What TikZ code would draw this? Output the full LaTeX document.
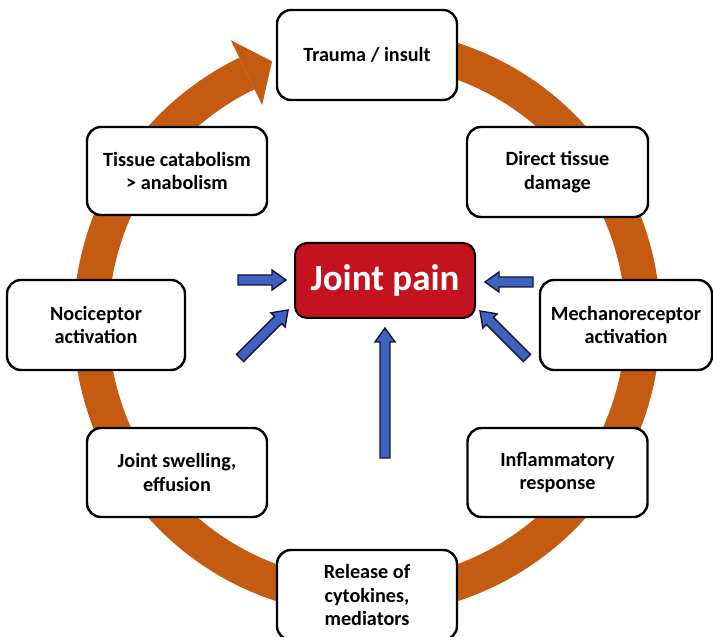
\documentclass[tikz,border=0pt]{standalone}
\usepackage{fontspec}
\setmainfont{Carlito}
\usetikzlibrary{calc,arrows.meta}
\definecolor{ringorange}{RGB}{197,90,17}
\definecolor{painred}{RGB}{196,18,30}
\definecolor{arrblue}{RGB}{62,98,190}
\definecolor{arrline}{RGB}{20,22,60}
\tikzset{
  cyclebox/.style={draw=black, line width=2.4pt, fill=white, rounded corners=14pt,
    minimum width=180pt, minimum height=90pt, inner sep=0pt, align=center,
    font=\fontsize{20.2}{23.5}\selectfont\bfseries},
  painbox/.style={draw=black, line width=2pt, fill=painred, rounded corners=12pt,
    minimum width=180pt, minimum height=75pt, inner sep=0pt, text=white,
    font=\fontsize{37}{42}\selectfont\bfseries},
  ringline/.style={draw=ringorange, line width=35pt, line cap=butt},
  barrow/.style={draw=arrline, line width=1.4pt, fill=arrblue, line join=miter}
}
\newcommand\blockarr[2]{%
  \draw[barrow] let \p1=($(#2)-(#1)$), \n1={atan2(\y1,\x1)}, \n2={veclen(\x1,\y1)-14} in
    ($(#1)+({\n1-90}:5)$) -- ++(\n1:\n2) -- ++({\n1-90}:5) -- (#2)
    -- ($(#1)+(\n1:\n2)+({\n1+90}:10)$) -- ++({\n1-90}:5) -- ($(#1)+({\n1+90}:5)$) -- cycle;}
\begin{document}
\begin{tikzpicture}[x=1pt,y=1pt]
\useasboundingbox (0,0) rectangle (713,637);
\clip (0,0) rectangle (713,637);
\fill[white] (0,0) rectangle (713,637);
\coordinate (c) at (367,315);
% ring with arrowhead
\draw[ringline] ($(c)+(75:276)$) arc[start angle=75, end angle=-244.2, radius=276];
\fill[ringorange] ($(c)+(115.8:241)$) -- ($(c)+(115.8:313)$) -- ($(c)+(115.8:276)+(25.8:28)$) -- cycle;
% boxes
\node[cyclebox] (trauma) at (367,582) {Trauma / insult};
\node[cyclebox, minimum width=181pt] (direct) at (557.5,465) {Direct tissue\\damage};
\node[cyclebox, minimum width=172pt] (mech) at (626,312) {Mechanoreceptor\\activation};
\node[cyclebox, minimum height=89pt] (infl) at (557.5,164.5) {Inflammatory\\response};
\node[cyclebox] (release) at (367,42) {Release of\\cytokines,\\mediators};
\node[cyclebox, minimum height=89pt] (swell) at (177,164.5) {Joint swelling,\\effusion};
\node[cyclebox, minimum width=178pt] (noci) at (96,312) {Nociceptor\\activation};
\node[cyclebox, minimum height=88pt] (tissue) at (177,466) {Tissue catabolism\\> anabolism};
\node[painbox] (pain) at (385,356.5) {Joint pain};
% blue arrows
\coordinate (lt) at (238,357); \coordinate (lh) at (286,357);
\coordinate (rt) at (533,355); \coordinate (rh) at (485,355);
\coordinate (llt) at (240,279); \coordinate (llh) at (288,327);
\coordinate (lrt) at (527,279); \coordinate (lrh) at (480,326);
\coordinate (vt) at (385,179); \coordinate (vh) at (385,309);
\blockarr{lt}{lh}
\blockarr{rt}{rh}
\blockarr{llt}{llh}
\blockarr{lrt}{lrh}
\blockarr{vt}{vh}
\end{tikzpicture}
\end{document}
